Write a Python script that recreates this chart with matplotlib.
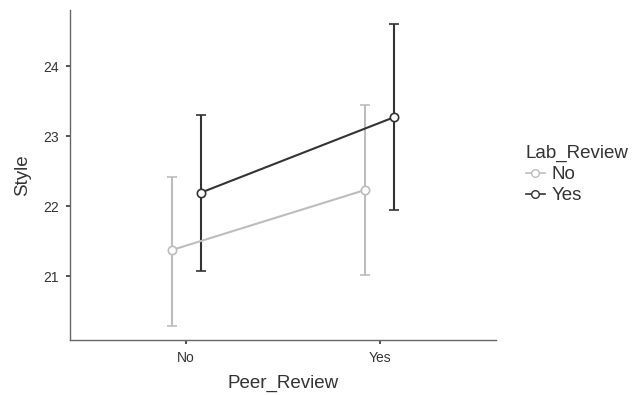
import numpy as np
import matplotlib
matplotlib.use("Agg")
import matplotlib.pyplot as plt
from matplotlib.lines import Line2D

plt.rcParams["font.family"] = ["Liberation Sans", "DejaVu Sans"]

# --- data ---
peer_levels = ["No", "Yes"]
lab_levels = ["No", "Yes"]
means = {"No": [21.37, 22.23], "Yes": [22.19, 23.27]}
lower = {"No": [20.29, 21.01], "Yes": [21.07, 21.94]}
upper = {"No": [22.41, 23.44], "Yes": [23.30, 24.60]}
colors = {"No": "#BDBDBD", "Yes": "#333333"}
dodge = {"No": -0.075, "Yes": 0.075}

fig = plt.figure(figsize=(6.33, 3.95), dpi=100)
ax = fig.add_axes([70 / 633, 55 / 395, 426 / 633, 330 / 395])

x = np.arange(len(peer_levels))
handles = []
for lab in lab_levels:
    xs = x + dodge[lab]
    m = np.array(means[lab])
    yerr = [m - np.array(lower[lab]), np.array(upper[lab]) - m]
    ax.errorbar(xs, m, yerr=yerr, color=colors[lab], lw=1.5, capsize=3.5,
                capthick=1.5, marker="o", markersize=6, mfc="white",
                mec=colors[lab], mew=1.2, zorder=3)
    handles.append(Line2D([], [], color=colors[lab], lw=1.2, marker="o",
                          markersize=5.5, mfc="white", mec=colors[lab], mew=1.0,
                          label=lab))

ax.set_xlim(-0.6, 1.6)
ax.set_ylim(20.086, 24.8)
ax.set_xticks(x)
ax.set_xticklabels(peer_levels)
ax.set_yticks([21, 22, 23, 24])

for s in ["top", "right"]:
    ax.spines[s].set_visible(False)
for s in ["left", "bottom"]:
    ax.spines[s].set_color("#666666")
    ax.spines[s].set_linewidth(1.0)
ax.tick_params(colors="#333333", labelsize=10, length=3, width=1.2,
               labelcolor="#333333", pad=5)

ax.set_xlabel("Peer_Review", fontsize=13.5, color="#333333", labelpad=7)
ax.set_ylabel("Style", fontsize=13.5, color="#333333", labelpad=9)

leg = ax.legend(handles=handles, title="Lab_Review", loc="upper left",
                bbox_to_anchor=(1.07, 0.59), frameon=False, fontsize=13.5,
                title_fontsize=13.5, handlelength=1.0, handletextpad=0.35,
                labelspacing=0.2, borderaxespad=0, borderpad=0)
leg._legend_box.align = "left"
for t in leg.get_texts():
    t.set_color("#333333")
leg.get_title().set_color("#333333")

fig.savefig("out.png", dpi=100)
